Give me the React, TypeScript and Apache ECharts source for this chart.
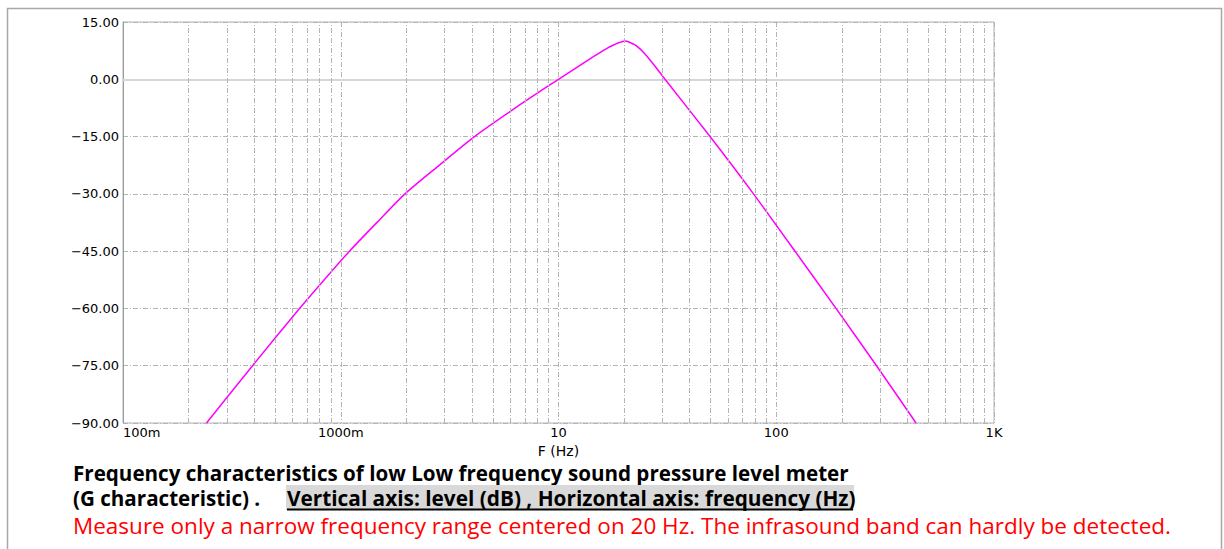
import React, { useEffect, useRef } from "react";
import * as echarts from "echarts";

// Frequency (Hz) and level (dB)
const freqHz = [0.2418, 0.3934, 0.6466, 0.8423, 1.097, 1.471, 1.973, 2.849, 4.113, 6.413, 10.0, 11.29, 12.55, 13.95, 15.51, 16.7, 17.8, 18.76, 19.57, 20.2, 21.3, 22.46, 23.68, 24.96, 26.32, 27.75, 29.26, 30.84, 49.65, 78.62, 121.9, 188.1, 288.7, 438.3];
const levelDb = [-90, -75, -60, -52.4, -45, -37.4, -30, -22.4, -15, -7.3, 0, 1.95, 3.65, 5.35, 7.0, 8.1, 8.9, 9.5, 9.85, 10.0, 9.65, 9.0, 7.95, 6.6, 5.05, 3.4, 1.7, 0, -15, -30, -45, -60, -75, -90];

const xTickLabels = ["100m", "1000m", "10", "100", "1K"];
const minorGrid = [0.2, 0.3, 0.4, 0.5, 0.6, 0.7, 0.8, 0.9, 2, 3, 4, 5, 6, 7, 8, 9, 20, 30, 40, 50, 60, 70, 80, 90, 200, 300, 400, 500, 600, 700, 800, 900];
const yMin = -90;
const yMax = 15;
const yStep = 15;

const xAxisName = "F (Hz)";
const captionLine1 = "Frequency characteristics of low Low frequency sound pressure level meter";
const captionLine2a = "(G characteristic) .";
const captionLine2b = "Vertical axis: level (dB) , Horizontal axis: frequency (Hz)";
const captionLine3 = "Measure only a narrow frequency range centered on 20 Hz. The infrasound band can hardly be detected.";

const gridLine = { color: "#b4b4b4", width: 1, type: [5, 2, 1, 2] as any };

export default function App() {
  const ref = useRef<HTMLDivElement>(null);
  useEffect(() => {
    if (!ref.current) return;
    const chart = echarts.init(ref.current, null, { renderer: "svg" });
    const data = freqHz.map((f, i) => [f, levelDb[i]]);
    chart.setOption({
      animation: false,
      backgroundColor: "#ffffff",
      grid: { left: 123, top: 22, right: 230, bottom: 126, show: true, borderColor: "#b4b4b4", borderWidth: 1 },
      xAxis: {
        type: "log",
        logBase: 10,
        min: 0.1,
        max: 1000,
        name: xAxisName,
        nameLocation: "middle",
        nameGap: 21,
        nameTextStyle: { color: "#000", fontSize: 14, lineHeight: 14, fontFamily: "DejaVu Sans", verticalAlign: "top" },
        axisLine: { show: true, lineStyle: { color: "#d6d6d6", width: 2 } },
        axisTick: { show: false },
        axisLabel: {
          color: "#000",
          fontSize: 13,
          fontFamily: "DejaVu Sans",
          margin: 3,
          alignMinLabel: "left",
          formatter: (v: number) => xTickLabels[Math.round(Math.log10(v)) + 1] ?? "",
        },
        splitLine: { show: true, lineStyle: gridLine },
      },
      yAxis: {
        type: "value",
        min: yMin,
        max: yMax,
        interval: yStep,
        axisLine: { show: true, lineStyle: { color: "#9a9a9a", width: 1 } },
        axisTick: { show: false },
        axisLabel: {
          color: "#000",
          fontSize: 13,
          fontFamily: "DejaVu Sans",
          margin: 4,
          formatter: (v: number) => v.toFixed(2).replace("-", "\u2212"),
        },
        splitLine: { show: true, lineStyle: gridLine },
      },
      series: [
        {
          type: "line",
          data,
          showSymbol: false,
          smooth: 0.25,
          clip: true,
          lineStyle: { color: "#ff00ff", width: 1.5 },
          markLine: {
            silent: true,
            symbol: "none",
            label: { show: false },
            lineStyle: gridLine,
            data: minorGrid.map((v) => ({ xAxis: v })),
          },
          z: 3,
        },
      ],
      graphic: [
        { type: "rect", shape: { x: 7.5, y: 8.5, width: 1214, height: 620 }, style: { fill: "none", stroke: "#a8a8a8", lineWidth: 1.5 }, silent: true },
        { type: "text", x: 73, y: 472.5, style: { text: captionLine1, font: "bold 20.6px 'Open Sans'", lineHeight: 20, fill: "#000", verticalAlign: "middle" } },
        { type: "text", x: 73, y: 498, style: { text: captionLine2a, font: "bold 20.6px 'Open Sans'", lineHeight: 20, fill: "#000", verticalAlign: "middle" } },
        { type: "rect", shape: { x: 286, y: 485, width: 568, height: 25 }, style: { fill: "#d9d9d9" } },
        { type: "text", x: 287, y: 498, style: { text: captionLine2b, font: "bold 20.8px 'Open Sans'", lineHeight: 20, fill: "#000", verticalAlign: "middle" } },
        { type: "line", shape: { x1: 287, y1: 509.5, x2: 853, y2: 509.5 }, style: { stroke: "#000", lineWidth: 2 } },
        { type: "text", x: 73, y: 525, style: { text: captionLine3, font: "22.5px 'Open Sans'", lineHeight: 22, fill: "#ff0000", verticalAlign: "middle" } },
      ],
    });
    return () => chart.dispose();
  }, []);
  return <div ref={ref} style={{ position: "fixed", left: 0, top: 0, width: 1224, height: 549 }} />;
}
